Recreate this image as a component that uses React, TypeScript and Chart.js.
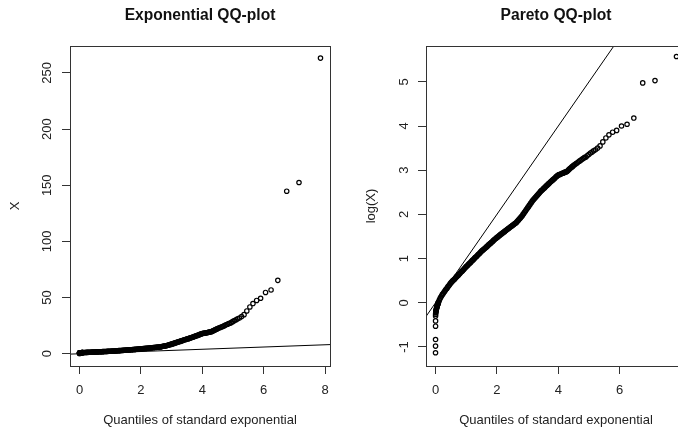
import { useEffect, useRef } from 'react';
import { Chart, registerables } from 'chart.js';

Chart.register(...registerables);

const FONT = '"Liberation Sans", Arial, Helvetica, sans-serif';

// Theoretical standard-exponential quantiles for the sorted sample
const expQuantiles = [
  0.0004, 0.0008, 0.0012, 0.0016, 0.002, 0.0023,
  0.003, 0.006, 0.009, 0.012, 0.015, 0.02, 0.025, 0.03, 0.035, 0.04, 0.045, 0.05, 0.055, 0.06, 0.065,
  0.07, 0.075, 0.08, 0.085, 0.09, 0.095, 0.1,
  0.125, 0.15, 0.175, 0.2, 0.225, 0.25, 0.275, 0.3, 0.325, 0.35, 0.375, 0.4, 0.425, 0.45, 0.475, 0.5,
  0.525, 0.55, 0.575, 0.6, 0.625, 0.65, 0.675, 0.7, 0.725, 0.75, 0.775, 0.8, 0.825, 0.85, 0.875, 0.9, 0.925, 0.95, 0.975, 1.0,
  1.025, 1.05, 1.075, 1.1, 1.125, 1.15, 1.175, 1.2, 1.225, 1.25, 1.275, 1.3, 1.325, 1.35, 1.375, 1.4, 1.425, 1.45, 1.475, 1.5,
  1.525, 1.55, 1.575, 1.6, 1.625, 1.65, 1.675, 1.7, 1.725, 1.75, 1.775, 1.8, 1.825, 1.85, 1.875, 1.9, 1.925, 1.95, 1.975, 2.0,
  2.025, 2.05, 2.075, 2.1, 2.125, 2.15, 2.175, 2.2, 2.225, 2.25, 2.275, 2.3, 2.325, 2.35, 2.375, 2.4, 2.425, 2.45, 2.475, 2.5,
  2.525, 2.55, 2.575, 2.6,
  2.625, 2.65, 2.675, 2.7, 2.725, 2.75, 2.775, 2.8, 2.825, 2.85, 2.875, 2.9, 2.925, 2.95, 2.975, 3.0,
  3.025, 3.05, 3.075, 3.1, 3.125, 3.15, 3.175, 3.2,
  3.225, 3.25, 3.275, 3.3, 3.325, 3.35, 3.375, 3.4, 3.425, 3.45, 3.475, 3.5, 3.525, 3.55, 3.575, 3.6,
  3.625, 3.65, 3.675, 3.7, 3.725, 3.75, 3.775, 3.8, 3.825, 3.85, 3.875, 3.9, 3.925, 3.95, 3.975, 4.0,
  4.025, 4.05, 4.075, 4.1, 4.125, 4.15, 4.175, 4.2, 4.225, 4.25, 4.275, 4.3,
  4.325, 4.35, 4.375, 4.4, 4.425, 4.45, 4.475, 4.5,
  4.54, 4.58, 4.62, 4.66, 4.7, 4.74, 4.78, 4.82, 4.86, 4.9, 4.95, 5.0, 5.05, 5.1, 5.15, 5.21,
  5.28, 5.36, 5.45, 5.55, 5.65, 5.77, 5.9, 6.06, 6.24, 6.46, 6.75, 7.15, 7.85,
];

// Sorted sample on the log scale, log(X), in the same order as expQuantiles
const logSample = [
  -1.13, -0.98, -0.83, -0.53, -0.41, -0.3,
  -0.26, -0.23, -0.21, -0.2, -0.18, -0.17, -0.15, -0.14, -0.12, -0.11, -0.1, -0.08, -0.07, -0.06, -0.05,
  -0.04, -0.03, -0.02, -0.01, 0.0, 0.01, 0.02,
  0.06, 0.1, 0.13, 0.16, 0.19, 0.21, 0.24, 0.26, 0.29, 0.31, 0.33, 0.36, 0.38, 0.4, 0.43, 0.45,
  0.47, 0.49, 0.51, 0.52, 0.54, 0.56, 0.58, 0.6, 0.61, 0.63, 0.65, 0.67, 0.69, 0.71, 0.72, 0.74, 0.76, 0.78, 0.8, 0.82,
  0.83, 0.85, 0.87, 0.89, 0.9, 0.92, 0.94, 0.96, 0.97, 0.99, 1.01, 1.03, 1.04, 1.06, 1.08, 1.1, 1.11, 1.13, 1.15, 1.17,
  1.18, 1.2, 1.21, 1.23, 1.24, 1.26, 1.27, 1.29, 1.31, 1.32, 1.34, 1.35, 1.37, 1.38, 1.4, 1.42, 1.43, 1.45, 1.46, 1.48,
  1.49, 1.5, 1.52, 1.53, 1.55, 1.56, 1.57, 1.59, 1.6, 1.61, 1.63, 1.64, 1.65, 1.67, 1.68, 1.69, 1.71, 1.72, 1.73, 1.75,
  1.76, 1.77, 1.79, 1.8,
  1.81, 1.83, 1.85, 1.87, 1.89, 1.91, 1.93, 1.95, 1.97, 2.0, 2.02, 2.05, 2.07, 2.1, 2.12, 2.15,
  2.17, 2.2, 2.22, 2.25, 2.27, 2.3, 2.32, 2.34,
  2.36, 2.38, 2.4, 2.42, 2.44, 2.46, 2.48, 2.5, 2.52, 2.54, 2.55, 2.57, 2.59, 2.6, 2.62, 2.64,
  2.65, 2.67, 2.69, 2.7, 2.72, 2.74, 2.75, 2.77, 2.78, 2.8, 2.81, 2.83, 2.85, 2.86, 2.88, 2.89,
  2.9, 2.9, 2.91, 2.92, 2.93, 2.93, 2.94, 2.95, 2.96, 2.96, 2.97, 2.98,
  3.0, 3.02, 3.03, 3.05, 3.06, 3.08, 3.09, 3.11,
  3.13, 3.15, 3.17, 3.19, 3.21, 3.23, 3.25, 3.27, 3.29, 3.3, 3.33, 3.36, 3.39, 3.41, 3.44, 3.46,
  3.5, 3.55, 3.64, 3.73, 3.8, 3.86, 3.9, 4.0, 4.04, 4.18, 4.975, 5.027, 5.573,
];

// Reference line: intercept and slope
const refLine = [0, 1];

// Axis limits and tick values
const xLimits = [-0.31, 8.16];
const xTicks = [0, 2, 4, 6, 8];
const expYLimits = [-10.9, 274];
const expYTicks = [0, 50, 100, 150, 200, 250];
const paretoYLimits = [-1.43, 5.81];
const paretoYTicks = [-1, 0, 1, 2, 3, 4, 5];

const PANEL_W = 356;
const PANEL_H = 432;
const INK = '#222';
const FRAME = '#333';

type PanelSpec = {
  title: string;
  yTitle: string;
  yLimits: number[];
  yTicks: number[];
  yLabelPad: number;
  transform: (v: number) => number;
};

function frameAndTitle(title: string) {
  return {
    id: 'frameAndTitle',
    afterDraw(chart: Chart) {
      const { ctx, chartArea: a } = chart;
      ctx.save();
      ctx.strokeStyle = FRAME;
      ctx.lineWidth = 1;
      ctx.strokeRect(
        Math.round(a.left) + 0.5,
        Math.round(a.top) + 0.5,
        Math.round(a.right - a.left),
        Math.round(a.bottom - a.top)
      );
      ctx.fillStyle = '#111';
      ctx.font = `bold 15.6px ${FONT}`;
      ctx.textAlign = 'center';
      ctx.textBaseline = 'alphabetic';
      ctx.fillText(title, (a.left + a.right) / 2, 20);
      ctx.restore();
    },
  };
}

function QQPanel({ spec }: { spec: PanelSpec }) {
  const ref = useRef<HTMLCanvasElement | null>(null);

  useEffect(() => {
    const canvas = ref.current;
    if (!canvas) return;

    const points = expQuantiles.map((q, i) => ({ x: q, y: spec.transform(logSample[i]) }));
    const [a, b] = refLine;
    const linePts = [xLimits[0] - 1, xLimits[1] + 1].map((x) => ({ x, y: a + b * x }));

    const chart = new Chart(canvas, {
      type: 'scatter',
      data: {
        datasets: [
          {
            data: points,
            pointStyle: 'circle',
            pointRadius: 2.2,
            pointBorderWidth: 1.2,
            pointBorderColor: '#000',
            pointBackgroundColor: 'rgba(0,0,0,0)',
            showLine: false,
          },
          {
            data: linePts,
            showLine: true,
            pointRadius: 0,
            borderColor: '#000',
            borderWidth: 1,
          },
        ],
      },
      options: {
        animation: false,
        responsive: false,
        devicePixelRatio: 1,
        events: [],
        layout: { padding: { top: 46, right: 26, left: 0, bottom: 0 } },
        plugins: {
          legend: { display: false },
          tooltip: { enabled: false },
        },
        scales: {
          x: {
            type: 'linear',
            position: 'bottom',
            min: xLimits[0],
            max: xLimits[1],
            afterBuildTicks: (s: any) => {
              s.ticks = xTicks.map((v) => ({ value: v }));
            },
            afterFit: (s: any) => {
              s.height = 66;
            },
            border: { display: false },
            grid: { drawOnChartArea: false, drawTicks: true, tickLength: 8, color: FRAME },
            ticks: {
              color: INK,
              padding: 9,
              maxRotation: 0,
              minRotation: 0,
              font: { family: FONT, size: 13 },
            },
            title: {
              display: true,
              text: 'Quantiles of standard exponential',
              color: INK,
              font: { family: FONT, size: 13 },
              padding: { top: 0, bottom: 4 },
            },
          },
          y: {
            type: 'linear',
            position: 'left',
            min: spec.yLimits[0],
            max: spec.yLimits[1],
            afterBuildTicks: (s: any) => {
              s.ticks = spec.yTicks.map((v) => ({ value: v }));
            },
            afterFit: (s: any) => {
              s.width = 70;
            },
            border: { display: false },
            grid: { drawOnChartArea: false, drawTicks: true, tickLength: 8, color: FRAME },
            ticks: {
              color: INK,
              padding: spec.yLabelPad,
              minRotation: 90,
              maxRotation: 90,
              crossAlign: 'center',
              font: { family: FONT, size: 13 },
            },
            title: {
              display: true,
              text: spec.yTitle,
              color: INK,
              font: { family: FONT, size: 13 },
              padding: { top: 8, bottom: 0 },
            },
          },
        },
      },
      plugins: [frameAndTitle(spec.title)],
    } as any);

    return () => chart.destroy();
  }, [spec]);

  return (
    <div style={{ width: PANEL_W, height: PANEL_H, flex: '0 0 auto' }}>
      <canvas ref={ref} width={PANEL_W} height={PANEL_H} style={{ display: 'block' }} />
    </div>
  );
}

const exponentialPanel: PanelSpec = {
  title: 'Exponential QQ-plot',
  yTitle: 'X',
  yLimits: expYLimits,
  yTicks: expYTicks,
  yLabelPad: 4,
  transform: (v) => Math.exp(v),
};

const paretoPanel: PanelSpec = {
  title: 'Pareto QQ-plot',
  yTitle: 'log(X)',
  yLimits: paretoYLimits,
  yTicks: paretoYTicks,
  yLabelPad: 8,
  transform: (v) => v,
};

export default function App() {
  return (
    <div
      style={{
        position: 'fixed',
        left: 0,
        top: 0,
        width: 678,
        height: 432,
        overflow: 'hidden',
        background: '#fff',
        display: 'flex',
      }}
    >
      <QQPanel spec={exponentialPanel} />
      <QQPanel spec={paretoPanel} />
    </div>
  );
}
